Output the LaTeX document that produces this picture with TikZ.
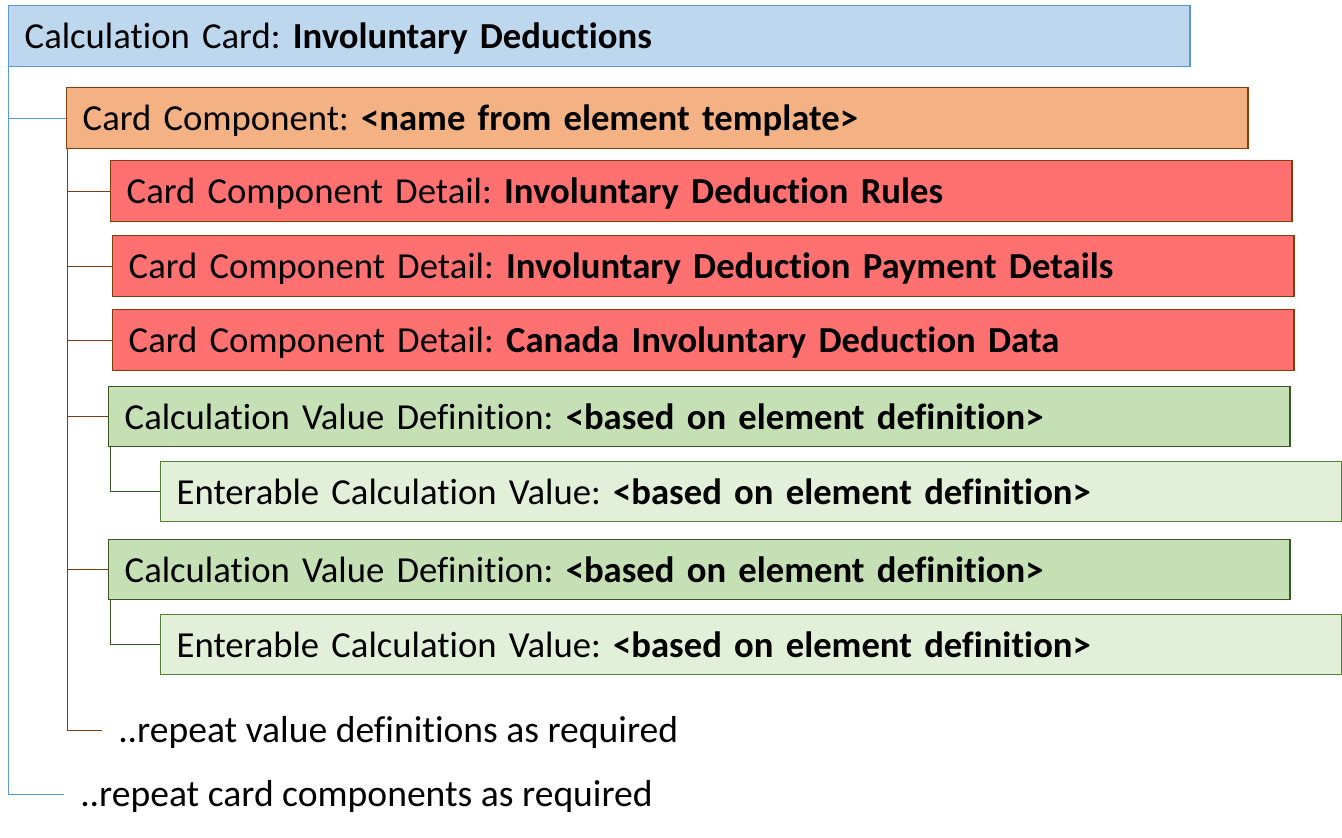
\documentclass[tikz,border=0pt]{standalone}
\usepackage{fontspec}
\setmainfont{Carlito}[Ligatures=NoCommon]
\definecolor{cardfill}{HTML}{BDD7EE}
\definecolor{carddraw}{HTML}{5B9BD5}
\definecolor{compfill}{HTML}{F4B183}
\definecolor{compdraw}{HTML}{843C0C}
\definecolor{detfill}{HTML}{FF7171}
\definecolor{valfill}{HTML}{C5E0B4}
\definecolor{valdraw}{HTML}{385723}
\definecolor{entfill}{HTML}{E2F0D9}
\definecolor{entdraw}{HTML}{548235}

\begin{document}
\frenchspacing
\begin{tikzpicture}[x=0.75pt,y=-0.75pt,
  every node/.style={font=\fontsize{27.5}{32}\selectfont, inner ysep=0pt, inner xsep=12pt, text height=20pt, text depth=1.2pt},
  box/.style={anchor=north west, line width=1.1pt, minimum width=886pt, text width=862pt, align=left},
  cardbox/.style={box, fill=cardfill, draw=carddraw, minimum height=45.75pt},
  compbox/.style={box, fill=compfill, draw=compdraw, minimum height=45.75pt},
  detbox/.style={box, fill=detfill, draw=compdraw, minimum height=45.5pt},
  valbox/.style={box, fill=valfill, draw=valdraw, minimum height=45pt},
  entbox/.style={box, fill=entfill, draw=entdraw, minimum height=45pt},
  note/.style={anchor=west, font=\fontsize{28.2}{33}\selectfont},
  bluelink/.style={draw=carddraw, line width=0.75pt},
  brownlink/.style={draw=compdraw, line width=0.75pt},
  greenlink/.style={draw=valdraw, line width=0.75pt}]
\useasboundingbox (0,0) rectangle (1342,838);
\node[cardbox] (card) at (8,5) {Calculation Card: \textbf{Involuntary Deductions}};
\node[compbox] (comp) at (66,87) {Card Component: \textbf{<name from element template>}};
\node[detbox] (det1) at (110,160) {Card Component Detail: \textbf{Involuntary Deduction Rules}};
\node[detbox] (det2) at (112,235) {Card Component Detail: \textbf{Involuntary Deduction Payment Details}};
\node[detbox] (det3) at (112,309) {Card Component Detail: \textbf{Canada Involuntary Deduction Data}};
\node[valbox] (val1) at (108,386) {Calculation Value Definition: \textbf{<based on element definition>}};
\node[entbox] (ent1) at (160,461) {Enterable Calculation Value: \textbf{<based on element definition>}};
\node[valbox] (val2) at (108,539) {Calculation Value Definition: \textbf{<based on element definition>}};
\node[entbox] (ent2) at (160,614) {Enterable Calculation Value: \textbf{<based on element definition>}};
\node[note] (repv) at (102,730) {..repeat value definitions as required};
\node[note] (repc) at (64,794) {..repeat card components as required};

\draw[bluelink] (card.south west) |- (comp.west);
\draw[bluelink] (card.south west) |- (repc.west);
\foreach \n in {det1,det2,det3,val1,val2,repv}
  \draw[brownlink] ([xshift=1pt]comp.south west) |- (\n.west);
\draw[greenlink] ([xshift=1.5pt]val1.south west) |- (ent1.west);
\draw[greenlink] ([xshift=1.5pt]val2.south west) |- (ent2.west);
\end{tikzpicture}
\end{document}
